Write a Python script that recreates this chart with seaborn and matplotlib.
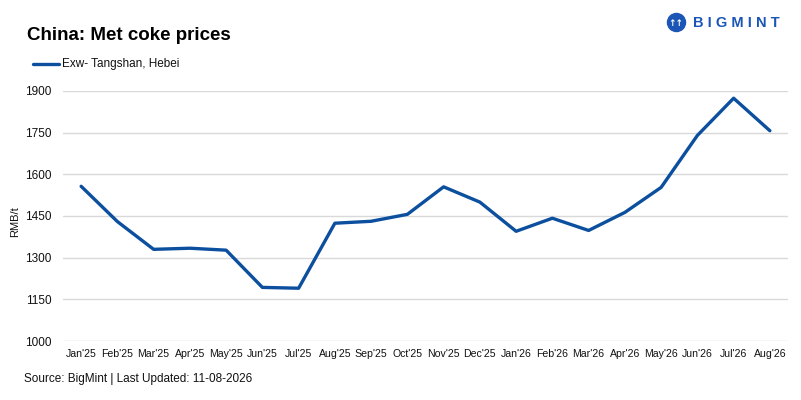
import pandas as pd
import matplotlib
matplotlib.use('Agg')
import matplotlib.pyplot as plt
import seaborn as sns

months = ["Jan'25", "Feb'25", "Mar'25", "Apr'25", "May'25", "Jun'25", "Jul'25",
          "Aug'25", "Sep'25", "Oct'25", "Nov'25", "Dec'25", "Jan'26", "Feb'26",
          "Mar'26", "Apr'26", "May'26", "Jun'26", "Jul'26", "Aug'26"]
prices = [1557, 1430, 1330, 1334, 1327, 1193, 1190, 1424, 1431, 1456,
          1555, 1500, 1395, 1442, 1398, 1463, 1553, 1740, 1874, 1757]
y_ticks = [1000, 1150, 1300, 1450, 1600, 1750, 1900]
series_name = 'Exw- Tangshan, Hebei'

df = pd.DataFrame({'month': months, 'price': prices})
df['pos'] = range(len(df))

sns.set_style('white')
plt.rcParams['font.family'] = ['Liberation Sans', 'DejaVu Sans']
plt.rcParams['text.color'] = '#111111'

fig = plt.figure(figsize=(8.01, 4.0), dpi=100)
ax = fig.add_axes([63 / 801, 1 - 341 / 400, (788 - 63) / 801, 250 / 400])

line_color = '#0B4F9E'
sns.lineplot(data=df, x='pos', y='price', ax=ax, color=line_color, linewidth=2.4,
             label=series_name, legend=False)

ax.set_xlim(-0.5, len(months) - 0.5)
ax.set_ylim(1000, 1900)
ax.set_yticks(y_ticks)
ax.set_yticklabels([str(v) for v in y_ticks], fontsize=8.5)
ax.set_xticks(df['pos'])
ax.set_xticklabels(months, fontsize=7.6)
ax.tick_params(axis='both', length=0, colors='#111111')
ax.tick_params(axis='x', pad=6)
ax.tick_params(axis='y', pad=8)
ax.grid(axis='y', color='#d9d9d9', linewidth=1)
ax.grid(axis='x', visible=False)
for s in ax.spines.values():
    s.set_visible(False)
ax.set_xlabel('')
ax.set_ylabel('')

# y axis title
fig.text(15 / 801, 1 - 222 / 400, 'RMB/t', fontsize=8, rotation=90, va='center', ha='center')

# title and legend
fig.text(27 / 801, 1 - 35 / 400, 'China: Met coke prices', fontsize=13.5, fontweight='bold',
         color='black', va='center', ha='left')
fig.add_artist(plt.Line2D([33 / 801, 59 / 801], [1 - 64 / 400, 1 - 64 / 400],
                          color=line_color, linewidth=2.4))
fig.text(62 / 801, 1 - 64 / 400, series_name, fontsize=8.5, va='center', ha='left')

# source
fig.text(24 / 801, 1 - 379 / 400, 'Source: BigMint | Last Updated: 11-08-2026', fontsize=8.5,
         va='center', ha='left')

# logo
logo_color = '#1B55B5'
fig.add_artist(plt.Line2D([676 / 801], [1 - 22 / 400], marker='o', markersize=13,
                          markerfacecolor=logo_color, markeredgecolor=logo_color))
fig.text(676 / 801, 1 - 23 / 400, '\u2191\u2191', fontsize=6.5, color='white', ha='center',
         va='center', fontweight='bold', family='DejaVu Sans')
fig.text(693 / 801, 1 - 23 / 400, 'B I G M I N T', fontsize=10.5, fontweight='bold',
         color=logo_color, va='center', ha='left')

fig.savefig('out.png', dpi=100, facecolor='white')
